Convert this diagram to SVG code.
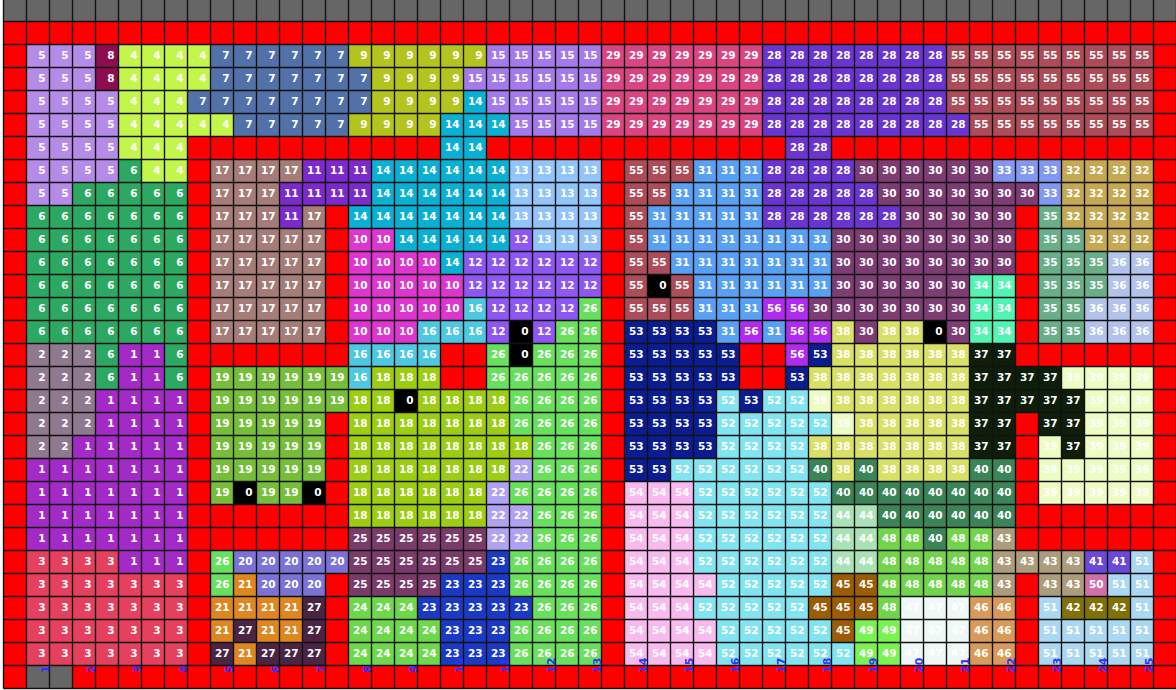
<svg xmlns="http://www.w3.org/2000/svg" width="1176" height="690" viewBox="0 0 1176 690">
<style>
#numbers text{font-family:"DejaVu Sans",sans-serif;font-size:10.5px;font-weight:bold;fill:#fff;text-anchor:end}
#labels text{font-family:"DejaVu Sans",sans-serif;font-size:11px;font-weight:bold;fill:#3030ff}
</style>
<rect width="1176" height="690" fill="#fff"/>
<rect x="3.5" y="-1.5" width="1173" height="690" fill="#f00"/>
<rect x="3.5" y="-1.5" width="1173" height="23" fill="#666"/>
<rect x="26.5" y="665.5" width="46" height="23" fill="#666"/>
<g id="cells" transform="translate(3.5 -1.5) scale(23)" fill="none" stroke-width="1">
<path stroke="#000" d="M28 12.5h1M22 14.5h1M40 14.5h1M22 15.5h1M17 17.5h1M10 21.5h1M13 21.5h1"/>
<path stroke="#a42ac8" d="M5 15.5h2M5 16.5h2M4 17.5h4M4 18.5h4M3 19.5h5M1 20.5h7M1 21.5h7M1 22.5h7M1 23.5h7M5 24.5h3"/>
<path stroke="#8e798e" d="M1 15.5h3M1 16.5h3M1 17.5h3M1 18.5h3M1 19.5h2"/>
<path stroke="#e5405e" d="M1 24.5h4M1 25.5h7M1 26.5h7M1 27.5h7M1 28.5h7"/>
<path stroke="#c4f54a" d="M5 2.5h4M5 3.5h4M5 4.5h3M5 5.5h5M5 6.5h3M6 7.5h2"/>
<path stroke="#b58be8" d="M1 2.5h3M1 3.5h3M1 4.5h4M1 5.5h4M1 6.5h4M1 7.5h4M1 8.5h2"/>
<path stroke="#2da862" d="M5 7.5h1M3 8.5h5M1 9.5h7M1 10.5h7M1 11.5h7M1 12.5h7M1 13.5h7M1 14.5h7M4 15.5h1M7 15.5h1M4 16.5h1M7 16.5h1"/>
<path stroke="#5271a8" d="M9 2.5h6M9 3.5h7M8 4.5h8M10 5.5h5"/>
<path stroke="#8e0c50" d="M4 2.5h1M4 3.5h1"/>
<path stroke="#b4c41e" d="M15 2.5h6M16 3.5h4M16 4.5h4M15 5.5h4"/>
<path stroke="#de34d0" d="M15 10.5h2M15 11.5h4M15 12.5h5M15 13.5h5M15 14.5h3"/>
<path stroke="#7d2acc" d="M13 7.5h3M12 8.5h4M12 9.5h1"/>
<path stroke="#8e56f2" d="M22 10.5h1M20 11.5h6M20 12.5h6M21 13.5h4M21 14.5h1M23 14.5h1"/>
<path stroke="#90c4fa" d="M22 7.5h4M22 8.5h4M22 9.5h4M23 10.5h3"/>
<path stroke="#0ab0d4" d="M20 4.5h1M19 5.5h3M19 6.5h2M16 7.5h6M16 8.5h6M15 9.5h7M17 10.5h5M19 11.5h1"/>
<path stroke="#a47aea" d="M21 2.5h5M20 3.5h6M21 4.5h5M22 5.5h4"/>
<path stroke="#4ec8e0" d="M20 13.5h1M18 14.5h3M15 15.5h4M15 16.5h1"/>
<path stroke="#a67c78" d="M9 7.5h4M9 8.5h3M9 9.5h3M13 9.5h1M9 10.5h5M9 11.5h5M9 12.5h5M9 13.5h5M9 14.5h5"/>
<path stroke="#9ccd12" d="M16 16.5h3M15 17.5h2M18 17.5h4M15 18.5h7M15 19.5h8M15 20.5h7M15 21.5h6M15 22.5h6"/>
<path stroke="#76be3a" d="M9 16.5h6M9 17.5h6M9 18.5h5M9 19.5h5M9 20.5h5M9 21.5h1M11 21.5h2"/>
<path stroke="#7a72d6" d="M10 24.5h5M11 25.5h3"/>
<path stroke="#de8620" d="M10 25.5h1M9 26.5h4M9 27.5h1M11 27.5h2M10 28.5h1"/>
<path stroke="#b0a2f2" d="M22 20.5h1M21 21.5h1M21 22.5h2M21 23.5h2"/>
<path stroke="#1a3ac6" d="M21 24.5h1M19 25.5h3M18 26.5h5M19 27.5h3M19 28.5h3"/>
<path stroke="#6cd84a" d="M15 26.5h3M15 27.5h4M15 28.5h4"/>
<path stroke="#7a3a6a" d="M15 23.5h6M15 24.5h6M15 25.5h4"/>
<path stroke="#68e05c" d="M25 13.5h1M24 14.5h2M21 15.5h1M23 15.5h3M21 16.5h5M22 17.5h4M22 18.5h4M23 19.5h3M23 20.5h3M22 21.5h4M23 22.5h3M23 23.5h3M9 24.5h1M22 24.5h4M9 25.5h1M22 25.5h4M23 26.5h3M22 27.5h4M22 28.5h4"/>
<path stroke="#4a2442" d="M13 26.5h1M10 27.5h1M13 27.5h1M9 28.5h1M11 28.5h3"/>
<path stroke="#6a34d0" d="M33 2.5h8M33 3.5h8M33 4.5h8M33 5.5h9M34 6.5h2M33 7.5h4M33 8.5h5M33 9.5h6"/>
<path stroke="#da4480" d="M26 2.5h7M26 3.5h7M26 4.5h7M26 5.5h7"/>
<path stroke="#7e3c74" d="M37 7.5h6M38 8.5h7M39 9.5h5M36 10.5h8M36 11.5h8M36 12.5h6M35 13.5h7M37 14.5h1M41 14.5h1"/>
<path stroke="#58a0f4" d="M30 7.5h3M29 8.5h4M28 9.5h5M28 10.5h8M29 11.5h7M30 12.5h6M30 13.5h3M31 14.5h1M33 14.5h1"/>
<path stroke="#c4a852" d="M46 7.5h4M46 8.5h4M46 9.5h4M47 10.5h3"/>
<path stroke="#8298f0" d="M43 7.5h3M45 8.5h1"/>
<path stroke="#52f4b2" d="M42 12.5h2M42 13.5h2M42 14.5h2"/>
<path stroke="#68ae88" d="M45 9.5h1M45 10.5h2M45 11.5h3M45 12.5h3M45 13.5h2M45 14.5h2"/>
<path stroke="#b2c2ea" d="M48 11.5h2M48 12.5h2M47 13.5h3M47 14.5h3"/>
<path stroke="#0e1e0a" d="M42 15.5h2M42 16.5h4M42 17.5h5M42 18.5h2M45 18.5h2M42 19.5h2M46 19.5h1"/>
<path stroke="#d8e066" d="M36 14.5h1M38 14.5h2M36 15.5h6M35 16.5h7M36 17.5h6M37 18.5h5M35 19.5h7M36 20.5h1M38 20.5h4"/>
<path stroke="#ecfcc2" d="M46 16.5h4M35 17.5h1M47 17.5h3M36 18.5h1M47 18.5h3M45 19.5h1M47 19.5h3M45 20.5h5M45 21.5h5"/>
<path stroke="#3a8458" d="M35 20.5h1M37 20.5h1M42 20.5h2M36 21.5h8M38 22.5h6M40 23.5h1"/>
<path stroke="#6a48d8" d="M47 24.5h2"/>
<path stroke="#807008" d="M46 26.5h3"/>
<path stroke="#ac9c7c" d="M43 23.5h1M43 24.5h4M43 25.5h1M45 25.5h2"/>
<path stroke="#aae2b6" d="M36 22.5h2M36 23.5h2M36 24.5h2"/>
<path stroke="#9a5c04" d="M36 25.5h2M35 26.5h3M36 27.5h1"/>
<path stroke="#d89a58" d="M42 26.5h2M42 27.5h2M42 28.5h2"/>
<path stroke="#eef8f6" d="M39 26.5h3M39 27.5h3M39 28.5h3"/>
<path stroke="#72d44a" d="M38 23.5h2M41 23.5h2M38 24.5h5M38 25.5h5M38 26.5h1"/>
<path stroke="#7af252" d="M37 27.5h2M37 28.5h2"/>
<path stroke="#d070a8" d="M47 25.5h1"/>
<path stroke="#aad8f2" d="M49 24.5h1M48 25.5h2M45 26.5h1M49 26.5h1M45 27.5h5M45 28.5h5"/>
<path stroke="#82e4f0" d="M31 17.5h1M33 17.5h2M31 18.5h5M31 19.5h4M29 20.5h6M30 21.5h6M30 22.5h6M30 23.5h6M30 24.5h6M31 25.5h5M30 26.5h5M31 27.5h5M31 28.5h6"/>
<path stroke="#0a1c90" d="M27 14.5h4M27 15.5h5M35 15.5h1M27 16.5h5M34 16.5h1M27 17.5h4M32 17.5h1M27 18.5h4M27 19.5h4M27 20.5h2"/>
<path stroke="#f8baee" d="M27 21.5h3M27 22.5h3M27 23.5h3M27 24.5h3M27 25.5h4M27 26.5h3M27 27.5h4M27 28.5h4"/>
<path stroke="#ac4c58" d="M41 2.5h9M41 3.5h9M41 4.5h9M42 5.5h8M27 7.5h3M27 8.5h2M27 9.5h1M27 10.5h1M27 11.5h2M27 12.5h1M29 12.5h1M27 13.5h3"/>
<path stroke="#b02af0" d="M33 13.5h2M32 14.5h1M34 14.5h2M34 15.5h1"/>
</g>
<g id="grid" transform="translate(3.5 -1.5) scale(23)" fill="none" stroke="#111" stroke-width=".06">
<path d="M0 0v30M1 0v30M2 0v30M3 0v30M4 0v30M5 0v30M6 0v30M7 0v30M8 0v30M9 0v30M10 0v30M11 0v30M12 0v30M13 0v30M14 0v30M15 0v30M16 0v30M17 0v30M18 0v30M19 0v30M20 0v30M21 0v30M22 0v30M23 0v30M24 0v30M25 0v30M26 0v30M27 0v30M28 0v30M29 0v30M30 0v30M31 0v30M32 0v30M33 0v30M34 0v30M35 0v30M36 0v30M37 0v30M38 0v30M39 0v30M40 0v30M41 0v30M42 0v30M43 0v30M44 0v30M45 0v30M46 0v30M47 0v30M48 0v30M49 0v30M50 0v30M51 0v30M0 0h51M0 1h51M0 2h51M0 3h51M0 4h51M0 5h51M0 6h51M0 7h51M0 8h51M0 9h51M0 10h51M0 11h51M0 12h51M0 13h51M0 14h51M0 15h51M0 16h51M0 17h51M0 18h51M0 19h51M0 20h51M0 21h51M0 22h51M0 23h51M0 24h51M0 25h51M0 26h51M0 27h51M0 28h51M0 29h51M0 30h51"/>
</g>
<g id="numbers">
<g transform="translate(22.5 59)"><text x="23">5</text><text x="46">5</text><text x="69">5</text><text x="92">8</text><text x="115">4</text><text x="138">4</text><text x="161">4</text><text x="184">4</text><text x="207">7</text><text x="230">7</text><text x="253">7</text><text x="276">7</text><text x="299">7</text><text x="322">7</text><text x="345">9</text><text x="368">9</text><text x="391">9</text><text x="414">9</text><text x="437">9</text><text x="460">9</text><text x="483">15</text><text x="506">15</text><text x="529">15</text><text x="552">15</text><text x="575">15</text><text x="598">29</text><text x="621">29</text><text x="644">29</text><text x="667">29</text><text x="690">29</text><text x="713">29</text><text x="736">29</text><text x="759">28</text><text x="782">28</text><text x="805">28</text><text x="828">28</text><text x="851">28</text><text x="874">28</text><text x="897">28</text><text x="920">28</text><text x="943">55</text><text x="966">55</text><text x="989">55</text><text x="1012">55</text><text x="1035">55</text><text x="1058">55</text><text x="1081">55</text><text x="1104">55</text><text x="1127">55</text></g>
<g transform="translate(22.5 82)"><text x="23">5</text><text x="46">5</text><text x="69">5</text><text x="92">8</text><text x="115">4</text><text x="138">4</text><text x="161">4</text><text x="184">4</text><text x="207">7</text><text x="230">7</text><text x="253">7</text><text x="276">7</text><text x="299">7</text><text x="322">7</text><text x="345">7</text><text x="368">9</text><text x="391">9</text><text x="414">9</text><text x="437">9</text><text x="460">15</text><text x="483">15</text><text x="506">15</text><text x="529">15</text><text x="552">15</text><text x="575">15</text><text x="598">29</text><text x="621">29</text><text x="644">29</text><text x="667">29</text><text x="690">29</text><text x="713">29</text><text x="736">29</text><text x="759">28</text><text x="782">28</text><text x="805">28</text><text x="828">28</text><text x="851">28</text><text x="874">28</text><text x="897">28</text><text x="920">28</text><text x="943">55</text><text x="966">55</text><text x="989">55</text><text x="1012">55</text><text x="1035">55</text><text x="1058">55</text><text x="1081">55</text><text x="1104">55</text><text x="1127">55</text></g>
<g transform="translate(22.5 105)"><text x="23">5</text><text x="46">5</text><text x="69">5</text><text x="92">5</text><text x="115">4</text><text x="138">4</text><text x="161">4</text><text x="184">7</text><text x="207">7</text><text x="230">7</text><text x="253">7</text><text x="276">7</text><text x="299">7</text><text x="322">7</text><text x="345">7</text><text x="368">9</text><text x="391">9</text><text x="414">9</text><text x="437">9</text><text x="460">14</text><text x="483">15</text><text x="506">15</text><text x="529">15</text><text x="552">15</text><text x="575">15</text><text x="598">29</text><text x="621">29</text><text x="644">29</text><text x="667">29</text><text x="690">29</text><text x="713">29</text><text x="736">29</text><text x="759">28</text><text x="782">28</text><text x="805">28</text><text x="828">28</text><text x="851">28</text><text x="874">28</text><text x="897">28</text><text x="920">28</text><text x="943">55</text><text x="966">55</text><text x="989">55</text><text x="1012">55</text><text x="1035">55</text><text x="1058">55</text><text x="1081">55</text><text x="1104">55</text><text x="1127">55</text></g>
<g transform="translate(22.5 128)"><text x="23">5</text><text x="46">5</text><text x="69">5</text><text x="92">5</text><text x="115">4</text><text x="138">4</text><text x="161">4</text><text x="184">4</text><text x="207">4</text><text x="230">7</text><text x="253">7</text><text x="276">7</text><text x="299">7</text><text x="322">7</text><text x="345">9</text><text x="368">9</text><text x="391">9</text><text x="414">9</text><text x="437">14</text><text x="460">14</text><text x="483">14</text><text x="506">15</text><text x="529">15</text><text x="552">15</text><text x="575">15</text><text x="598">29</text><text x="621">29</text><text x="644">29</text><text x="667">29</text><text x="690">29</text><text x="713">29</text><text x="736">29</text><text x="759">28</text><text x="782">28</text><text x="805">28</text><text x="828">28</text><text x="851">28</text><text x="874">28</text><text x="897">28</text><text x="920">28</text><text x="943">28</text><text x="966">55</text><text x="989">55</text><text x="1012">55</text><text x="1035">55</text><text x="1058">55</text><text x="1081">55</text><text x="1104">55</text><text x="1127">55</text></g>
<g transform="translate(22.5 151)"><text x="23">5</text><text x="46">5</text><text x="69">5</text><text x="92">5</text><text x="115">4</text><text x="138">4</text><text x="161">4</text><text x="437">14</text><text x="460">14</text><text x="782">28</text><text x="805">28</text></g>
<g transform="translate(22.5 174)"><text x="23">5</text><text x="46">5</text><text x="69">5</text><text x="92">5</text><text x="115">6</text><text x="138">4</text><text x="161">4</text><text x="207">17</text><text x="230">17</text><text x="253">17</text><text x="276">17</text><text x="299">11</text><text x="322">11</text><text x="345">11</text><text x="368">14</text><text x="391">14</text><text x="414">14</text><text x="437">14</text><text x="460">14</text><text x="483">14</text><text x="506">13</text><text x="529">13</text><text x="552">13</text><text x="575">13</text><text x="621">55</text><text x="644">55</text><text x="667">55</text><text x="690">31</text><text x="713">31</text><text x="736">31</text><text x="759">28</text><text x="782">28</text><text x="805">28</text><text x="828">28</text><text x="851">30</text><text x="874">30</text><text x="897">30</text><text x="920">30</text><text x="943">30</text><text x="966">30</text><text x="989">33</text><text x="1012">33</text><text x="1035">33</text><text x="1058">32</text><text x="1081">32</text><text x="1104">32</text><text x="1127">32</text></g>
<g transform="translate(22.5 197)"><text x="23">5</text><text x="46">5</text><text x="69">6</text><text x="92">6</text><text x="115">6</text><text x="138">6</text><text x="161">6</text><text x="207">17</text><text x="230">17</text><text x="253">17</text><text x="276">11</text><text x="299">11</text><text x="322">11</text><text x="345">11</text><text x="368">14</text><text x="391">14</text><text x="414">14</text><text x="437">14</text><text x="460">14</text><text x="483">14</text><text x="506">13</text><text x="529">13</text><text x="552">13</text><text x="575">13</text><text x="621">55</text><text x="644">55</text><text x="667">31</text><text x="690">31</text><text x="713">31</text><text x="736">31</text><text x="759">28</text><text x="782">28</text><text x="805">28</text><text x="828">28</text><text x="851">28</text><text x="874">30</text><text x="897">30</text><text x="920">30</text><text x="943">30</text><text x="966">30</text><text x="989">30</text><text x="1012">30</text><text x="1035">33</text><text x="1058">32</text><text x="1081">32</text><text x="1104">32</text><text x="1127">32</text></g>
<g transform="translate(22.5 220)"><text x="23">6</text><text x="46">6</text><text x="69">6</text><text x="92">6</text><text x="115">6</text><text x="138">6</text><text x="161">6</text><text x="207">17</text><text x="230">17</text><text x="253">17</text><text x="276">11</text><text x="299">17</text><text x="345">14</text><text x="368">14</text><text x="391">14</text><text x="414">14</text><text x="437">14</text><text x="460">14</text><text x="483">14</text><text x="506">13</text><text x="529">13</text><text x="552">13</text><text x="575">13</text><text x="621">55</text><text x="644">31</text><text x="667">31</text><text x="690">31</text><text x="713">31</text><text x="736">31</text><text x="759">28</text><text x="782">28</text><text x="805">28</text><text x="828">28</text><text x="851">28</text><text x="874">28</text><text x="897">30</text><text x="920">30</text><text x="943">30</text><text x="966">30</text><text x="989">30</text><text x="1035">35</text><text x="1058">32</text><text x="1081">32</text><text x="1104">32</text><text x="1127">32</text></g>
<g transform="translate(22.5 243)"><text x="23">6</text><text x="46">6</text><text x="69">6</text><text x="92">6</text><text x="115">6</text><text x="138">6</text><text x="161">6</text><text x="207">17</text><text x="230">17</text><text x="253">17</text><text x="276">17</text><text x="299">17</text><text x="345">10</text><text x="368">10</text><text x="391">14</text><text x="414">14</text><text x="437">14</text><text x="460">14</text><text x="483">14</text><text x="506">12</text><text x="529">13</text><text x="552">13</text><text x="575">13</text><text x="621">55</text><text x="644">31</text><text x="667">31</text><text x="690">31</text><text x="713">31</text><text x="736">31</text><text x="759">31</text><text x="782">31</text><text x="805">31</text><text x="828">30</text><text x="851">30</text><text x="874">30</text><text x="897">30</text><text x="920">30</text><text x="943">30</text><text x="966">30</text><text x="989">30</text><text x="1035">35</text><text x="1058">35</text><text x="1081">32</text><text x="1104">32</text><text x="1127">32</text></g>
<g transform="translate(22.5 266)"><text x="23">6</text><text x="46">6</text><text x="69">6</text><text x="92">6</text><text x="115">6</text><text x="138">6</text><text x="161">6</text><text x="207">17</text><text x="230">17</text><text x="253">17</text><text x="276">17</text><text x="299">17</text><text x="345">10</text><text x="368">10</text><text x="391">10</text><text x="414">10</text><text x="437">14</text><text x="460">12</text><text x="483">12</text><text x="506">12</text><text x="529">12</text><text x="552">12</text><text x="575">12</text><text x="621">55</text><text x="644">55</text><text x="667">31</text><text x="690">31</text><text x="713">31</text><text x="736">31</text><text x="759">31</text><text x="782">31</text><text x="805">31</text><text x="828">30</text><text x="851">30</text><text x="874">30</text><text x="897">30</text><text x="920">30</text><text x="943">30</text><text x="966">30</text><text x="989">30</text><text x="1035">35</text><text x="1058">35</text><text x="1081">35</text><text x="1104">36</text><text x="1127">36</text></g>
<g transform="translate(22.5 289)"><text x="23">6</text><text x="46">6</text><text x="69">6</text><text x="92">6</text><text x="115">6</text><text x="138">6</text><text x="161">6</text><text x="207">17</text><text x="230">17</text><text x="253">17</text><text x="276">17</text><text x="299">17</text><text x="345">10</text><text x="368">10</text><text x="391">10</text><text x="414">10</text><text x="437">10</text><text x="460">12</text><text x="483">12</text><text x="506">12</text><text x="529">12</text><text x="552">12</text><text x="575">12</text><text x="621">55</text><text x="644">0</text><text x="667">55</text><text x="690">31</text><text x="713">31</text><text x="736">31</text><text x="759">31</text><text x="782">31</text><text x="805">31</text><text x="828">30</text><text x="851">30</text><text x="874">30</text><text x="897">30</text><text x="920">30</text><text x="943">30</text><text x="966">34</text><text x="989">34</text><text x="1035">35</text><text x="1058">35</text><text x="1081">35</text><text x="1104">36</text><text x="1127">36</text></g>
<g transform="translate(22.5 312)"><text x="23">6</text><text x="46">6</text><text x="69">6</text><text x="92">6</text><text x="115">6</text><text x="138">6</text><text x="161">6</text><text x="207">17</text><text x="230">17</text><text x="253">17</text><text x="276">17</text><text x="299">17</text><text x="345">10</text><text x="368">10</text><text x="391">10</text><text x="414">10</text><text x="437">10</text><text x="460">16</text><text x="483">12</text><text x="506">12</text><text x="529">12</text><text x="552">12</text><text x="575">26</text><text x="621">55</text><text x="644">55</text><text x="667">55</text><text x="690">31</text><text x="713">31</text><text x="736">31</text><text x="759">56</text><text x="782">56</text><text x="805">30</text><text x="828">30</text><text x="851">30</text><text x="874">30</text><text x="897">30</text><text x="920">30</text><text x="943">30</text><text x="966">34</text><text x="989">34</text><text x="1035">35</text><text x="1058">35</text><text x="1081">36</text><text x="1104">36</text><text x="1127">36</text></g>
<g transform="translate(22.5 335)"><text x="23">6</text><text x="46">6</text><text x="69">6</text><text x="92">6</text><text x="115">6</text><text x="138">6</text><text x="161">6</text><text x="207">17</text><text x="230">17</text><text x="253">17</text><text x="276">17</text><text x="299">17</text><text x="345">10</text><text x="368">10</text><text x="391">10</text><text x="414">16</text><text x="437">16</text><text x="460">16</text><text x="483">12</text><text x="506">0</text><text x="529">12</text><text x="552">26</text><text x="575">26</text><text x="621">53</text><text x="644">53</text><text x="667">53</text><text x="690">53</text><text x="713">31</text><text x="736">56</text><text x="759">31</text><text x="782">56</text><text x="805">56</text><text x="828">38</text><text x="851">30</text><text x="874">38</text><text x="897">38</text><text x="920">0</text><text x="943">30</text><text x="966">34</text><text x="989">34</text><text x="1035">35</text><text x="1058">35</text><text x="1081">36</text><text x="1104">36</text><text x="1127">36</text></g>
<g transform="translate(22.5 358)"><text x="23">2</text><text x="46">2</text><text x="69">2</text><text x="92">6</text><text x="115">1</text><text x="138">1</text><text x="161">6</text><text x="345">16</text><text x="368">16</text><text x="391">16</text><text x="414">16</text><text x="483">26</text><text x="506">0</text><text x="529">26</text><text x="552">26</text><text x="575">26</text><text x="621">53</text><text x="644">53</text><text x="667">53</text><text x="690">53</text><text x="713">53</text><text x="782">56</text><text x="805">53</text><text x="828">38</text><text x="851">38</text><text x="874">38</text><text x="897">38</text><text x="920">38</text><text x="943">38</text><text x="966">37</text><text x="989">37</text></g>
<g transform="translate(22.5 381)"><text x="23">2</text><text x="46">2</text><text x="69">2</text><text x="92">6</text><text x="115">1</text><text x="138">1</text><text x="161">6</text><text x="207">19</text><text x="230">19</text><text x="253">19</text><text x="276">19</text><text x="299">19</text><text x="322">19</text><text x="345">16</text><text x="368">18</text><text x="391">18</text><text x="414">18</text><text x="483">26</text><text x="506">26</text><text x="529">26</text><text x="552">26</text><text x="575">26</text><text x="621">53</text><text x="644">53</text><text x="667">53</text><text x="690">53</text><text x="713">53</text><text x="782">53</text><text x="805">38</text><text x="828">38</text><text x="851">38</text><text x="874">38</text><text x="897">38</text><text x="920">38</text><text x="943">38</text><text x="966">37</text><text x="989">37</text><text x="1012">37</text><text x="1035">37</text><text x="1058">39</text><text x="1081">39</text><text x="1104">39</text><text x="1127">39</text></g>
<g transform="translate(22.5 404)"><text x="23">2</text><text x="46">2</text><text x="69">2</text><text x="92">1</text><text x="115">1</text><text x="138">1</text><text x="161">1</text><text x="207">19</text><text x="230">19</text><text x="253">19</text><text x="276">19</text><text x="299">19</text><text x="322">19</text><text x="345">18</text><text x="368">18</text><text x="391">0</text><text x="414">18</text><text x="437">18</text><text x="460">18</text><text x="483">18</text><text x="506">26</text><text x="529">26</text><text x="552">26</text><text x="575">26</text><text x="621">53</text><text x="644">53</text><text x="667">53</text><text x="690">53</text><text x="713">52</text><text x="736">53</text><text x="759">52</text><text x="782">52</text><text x="805">39</text><text x="828">38</text><text x="851">38</text><text x="874">38</text><text x="897">38</text><text x="920">38</text><text x="943">38</text><text x="966">37</text><text x="989">37</text><text x="1012">37</text><text x="1035">37</text><text x="1058">37</text><text x="1081">39</text><text x="1104">39</text><text x="1127">39</text></g>
<g transform="translate(22.5 427)"><text x="23">2</text><text x="46">2</text><text x="69">2</text><text x="92">1</text><text x="115">1</text><text x="138">1</text><text x="161">1</text><text x="207">19</text><text x="230">19</text><text x="253">19</text><text x="276">19</text><text x="299">19</text><text x="345">18</text><text x="368">18</text><text x="391">18</text><text x="414">18</text><text x="437">18</text><text x="460">18</text><text x="483">18</text><text x="506">26</text><text x="529">26</text><text x="552">26</text><text x="575">26</text><text x="621">53</text><text x="644">53</text><text x="667">53</text><text x="690">53</text><text x="713">52</text><text x="736">52</text><text x="759">52</text><text x="782">52</text><text x="805">52</text><text x="828">39</text><text x="851">38</text><text x="874">38</text><text x="897">38</text><text x="920">38</text><text x="943">38</text><text x="966">37</text><text x="989">37</text><text x="1035">37</text><text x="1058">37</text><text x="1081">39</text><text x="1104">39</text><text x="1127">39</text></g>
<g transform="translate(22.5 450)"><text x="23">2</text><text x="46">2</text><text x="69">1</text><text x="92">1</text><text x="115">1</text><text x="138">1</text><text x="161">1</text><text x="207">19</text><text x="230">19</text><text x="253">19</text><text x="276">19</text><text x="299">19</text><text x="345">18</text><text x="368">18</text><text x="391">18</text><text x="414">18</text><text x="437">18</text><text x="460">18</text><text x="483">18</text><text x="506">18</text><text x="529">26</text><text x="552">26</text><text x="575">26</text><text x="621">53</text><text x="644">53</text><text x="667">53</text><text x="690">53</text><text x="713">52</text><text x="736">52</text><text x="759">52</text><text x="782">52</text><text x="805">38</text><text x="828">38</text><text x="851">38</text><text x="874">38</text><text x="897">38</text><text x="920">38</text><text x="943">38</text><text x="966">37</text><text x="989">37</text><text x="1035">39</text><text x="1058">37</text><text x="1081">39</text><text x="1104">39</text><text x="1127">39</text></g>
<g transform="translate(22.5 473)"><text x="23">1</text><text x="46">1</text><text x="69">1</text><text x="92">1</text><text x="115">1</text><text x="138">1</text><text x="161">1</text><text x="207">19</text><text x="230">19</text><text x="253">19</text><text x="276">19</text><text x="299">19</text><text x="345">18</text><text x="368">18</text><text x="391">18</text><text x="414">18</text><text x="437">18</text><text x="460">18</text><text x="483">18</text><text x="506">22</text><text x="529">26</text><text x="552">26</text><text x="575">26</text><text x="621">53</text><text x="644">53</text><text x="667">52</text><text x="690">52</text><text x="713">52</text><text x="736">52</text><text x="759">52</text><text x="782">52</text><text x="805">40</text><text x="828">38</text><text x="851">40</text><text x="874">38</text><text x="897">38</text><text x="920">38</text><text x="943">38</text><text x="966">40</text><text x="989">40</text><text x="1035">39</text><text x="1058">39</text><text x="1081">39</text><text x="1104">39</text><text x="1127">39</text></g>
<g transform="translate(22.5 496)"><text x="23">1</text><text x="46">1</text><text x="69">1</text><text x="92">1</text><text x="115">1</text><text x="138">1</text><text x="161">1</text><text x="207">19</text><text x="230">0</text><text x="253">19</text><text x="276">19</text><text x="299">0</text><text x="345">18</text><text x="368">18</text><text x="391">18</text><text x="414">18</text><text x="437">18</text><text x="460">18</text><text x="483">22</text><text x="506">26</text><text x="529">26</text><text x="552">26</text><text x="575">26</text><text x="621">54</text><text x="644">54</text><text x="667">54</text><text x="690">52</text><text x="713">52</text><text x="736">52</text><text x="759">52</text><text x="782">52</text><text x="805">52</text><text x="828">40</text><text x="851">40</text><text x="874">40</text><text x="897">40</text><text x="920">40</text><text x="943">40</text><text x="966">40</text><text x="989">40</text><text x="1035">39</text><text x="1058">39</text><text x="1081">39</text><text x="1104">39</text><text x="1127">39</text></g>
<g transform="translate(22.5 519)"><text x="23">1</text><text x="46">1</text><text x="69">1</text><text x="92">1</text><text x="115">1</text><text x="138">1</text><text x="161">1</text><text x="345">18</text><text x="368">18</text><text x="391">18</text><text x="414">18</text><text x="437">18</text><text x="460">18</text><text x="483">22</text><text x="506">22</text><text x="529">26</text><text x="552">26</text><text x="575">26</text><text x="621">54</text><text x="644">54</text><text x="667">54</text><text x="690">52</text><text x="713">52</text><text x="736">52</text><text x="759">52</text><text x="782">52</text><text x="805">52</text><text x="828">44</text><text x="851">44</text><text x="874">40</text><text x="897">40</text><text x="920">40</text><text x="943">40</text><text x="966">40</text><text x="989">40</text></g>
<g transform="translate(22.5 542)"><text x="23">1</text><text x="46">1</text><text x="69">1</text><text x="92">1</text><text x="115">1</text><text x="138">1</text><text x="161">1</text><text x="345">25</text><text x="368">25</text><text x="391">25</text><text x="414">25</text><text x="437">25</text><text x="460">25</text><text x="483">22</text><text x="506">22</text><text x="529">26</text><text x="552">26</text><text x="575">26</text><text x="621">54</text><text x="644">54</text><text x="667">54</text><text x="690">52</text><text x="713">52</text><text x="736">52</text><text x="759">52</text><text x="782">52</text><text x="805">52</text><text x="828">44</text><text x="851">44</text><text x="874">48</text><text x="897">48</text><text x="920">40</text><text x="943">48</text><text x="966">48</text><text x="989">43</text></g>
<g transform="translate(22.5 565)"><text x="23">3</text><text x="46">3</text><text x="69">3</text><text x="92">3</text><text x="115">1</text><text x="138">1</text><text x="161">1</text><text x="207">26</text><text x="230">20</text><text x="253">20</text><text x="276">20</text><text x="299">20</text><text x="322">20</text><text x="345">25</text><text x="368">25</text><text x="391">25</text><text x="414">25</text><text x="437">25</text><text x="460">25</text><text x="483">23</text><text x="506">26</text><text x="529">26</text><text x="552">26</text><text x="575">26</text><text x="621">54</text><text x="644">54</text><text x="667">54</text><text x="690">52</text><text x="713">52</text><text x="736">52</text><text x="759">52</text><text x="782">52</text><text x="805">52</text><text x="828">44</text><text x="851">44</text><text x="874">48</text><text x="897">48</text><text x="920">48</text><text x="943">48</text><text x="966">48</text><text x="989">43</text><text x="1012">43</text><text x="1035">43</text><text x="1058">43</text><text x="1081">41</text><text x="1104">41</text><text x="1127">51</text></g>
<g transform="translate(22.5 588)"><text x="23">3</text><text x="46">3</text><text x="69">3</text><text x="92">3</text><text x="115">3</text><text x="138">3</text><text x="161">3</text><text x="207">26</text><text x="230">21</text><text x="253">20</text><text x="276">20</text><text x="299">20</text><text x="345">25</text><text x="368">25</text><text x="391">25</text><text x="414">25</text><text x="437">23</text><text x="460">23</text><text x="483">23</text><text x="506">26</text><text x="529">26</text><text x="552">26</text><text x="575">26</text><text x="621">54</text><text x="644">54</text><text x="667">54</text><text x="690">54</text><text x="713">52</text><text x="736">52</text><text x="759">52</text><text x="782">52</text><text x="805">52</text><text x="828">45</text><text x="851">45</text><text x="874">48</text><text x="897">48</text><text x="920">48</text><text x="943">48</text><text x="966">48</text><text x="989">43</text><text x="1035">43</text><text x="1058">43</text><text x="1081">50</text><text x="1104">51</text><text x="1127">51</text></g>
<g transform="translate(22.5 611)"><text x="23">3</text><text x="46">3</text><text x="69">3</text><text x="92">3</text><text x="115">3</text><text x="138">3</text><text x="161">3</text><text x="207">21</text><text x="230">21</text><text x="253">21</text><text x="276">21</text><text x="299">27</text><text x="345">24</text><text x="368">24</text><text x="391">24</text><text x="414">23</text><text x="437">23</text><text x="460">23</text><text x="483">23</text><text x="506">23</text><text x="529">26</text><text x="552">26</text><text x="575">26</text><text x="621">54</text><text x="644">54</text><text x="667">54</text><text x="690">52</text><text x="713">52</text><text x="736">52</text><text x="759">52</text><text x="782">52</text><text x="805">45</text><text x="828">45</text><text x="851">45</text><text x="874">48</text><text x="897">47</text><text x="920">47</text><text x="943">47</text><text x="966">46</text><text x="989">46</text><text x="1035">51</text><text x="1058">42</text><text x="1081">42</text><text x="1104">42</text><text x="1127">51</text></g>
<g transform="translate(22.5 634)"><text x="23">3</text><text x="46">3</text><text x="69">3</text><text x="92">3</text><text x="115">3</text><text x="138">3</text><text x="161">3</text><text x="207">21</text><text x="230">27</text><text x="253">21</text><text x="276">21</text><text x="299">27</text><text x="345">24</text><text x="368">24</text><text x="391">24</text><text x="414">24</text><text x="437">23</text><text x="460">23</text><text x="483">23</text><text x="506">26</text><text x="529">26</text><text x="552">26</text><text x="575">26</text><text x="621">54</text><text x="644">54</text><text x="667">54</text><text x="690">54</text><text x="713">52</text><text x="736">52</text><text x="759">52</text><text x="782">52</text><text x="805">52</text><text x="828">45</text><text x="851">49</text><text x="874">49</text><text x="897">47</text><text x="920">47</text><text x="943">47</text><text x="966">46</text><text x="989">46</text><text x="1035">51</text><text x="1058">51</text><text x="1081">51</text><text x="1104">51</text><text x="1127">51</text></g>
<g transform="translate(22.5 657)"><text x="23">3</text><text x="46">3</text><text x="69">3</text><text x="92">3</text><text x="115">3</text><text x="138">3</text><text x="161">3</text><text x="207">27</text><text x="230">21</text><text x="253">27</text><text x="276">27</text><text x="299">27</text><text x="345">24</text><text x="368">24</text><text x="391">24</text><text x="414">24</text><text x="437">23</text><text x="460">23</text><text x="483">23</text><text x="506">26</text><text x="529">26</text><text x="552">26</text><text x="575">26</text><text x="621">54</text><text x="644">54</text><text x="667">54</text><text x="690">54</text><text x="713">52</text><text x="736">52</text><text x="759">52</text><text x="782">52</text><text x="805">52</text><text x="828">52</text><text x="851">49</text><text x="874">49</text><text x="897">47</text><text x="920">47</text><text x="943">47</text><text x="966">46</text><text x="989">46</text><text x="1035">51</text><text x="1058">51</text><text x="1081">51</text><text x="1104">51</text><text x="1127">51</text></g>
</g>
<g id="labels">
<text transform="translate(48.5 673) rotate(-90)">1</text>
<text transform="translate(94.5 673) rotate(-90)">2</text>
<text transform="translate(140.5 673) rotate(-90)">3</text>
<text transform="translate(186.5 673) rotate(-90)">4</text>
<text transform="translate(232.5 673) rotate(-90)">5</text>
<text transform="translate(278.5 673) rotate(-90)">6</text>
<text transform="translate(324.5 673) rotate(-90)">7</text>
<text transform="translate(370.5 673) rotate(-90)">8</text>
<text transform="translate(416.5 673) rotate(-90)">9</text>
<text transform="translate(462.5 673) rotate(-90)">10</text>
<text transform="translate(508.5 673) rotate(-90)">11</text>
<text transform="translate(554.5 673) rotate(-90)">12</text>
<text transform="translate(600.5 673) rotate(-90)">13</text>
<text transform="translate(646.5 673) rotate(-90)">14</text>
<text transform="translate(692.5 673) rotate(-90)">15</text>
<text transform="translate(738.5 673) rotate(-90)">16</text>
<text transform="translate(784.5 673) rotate(-90)">17</text>
<text transform="translate(830.5 673) rotate(-90)">18</text>
<text transform="translate(876.5 673) rotate(-90)">19</text>
<text transform="translate(922.5 673) rotate(-90)">20</text>
<text transform="translate(968.5 673) rotate(-90)">21</text>
<text transform="translate(1014.5 673) rotate(-90)">22</text>
<text transform="translate(1060.5 673) rotate(-90)">23</text>
<text transform="translate(1106.5 673) rotate(-90)">24</text>
<text transform="translate(1152.5 673) rotate(-90)">25</text>
</g>
</svg>
